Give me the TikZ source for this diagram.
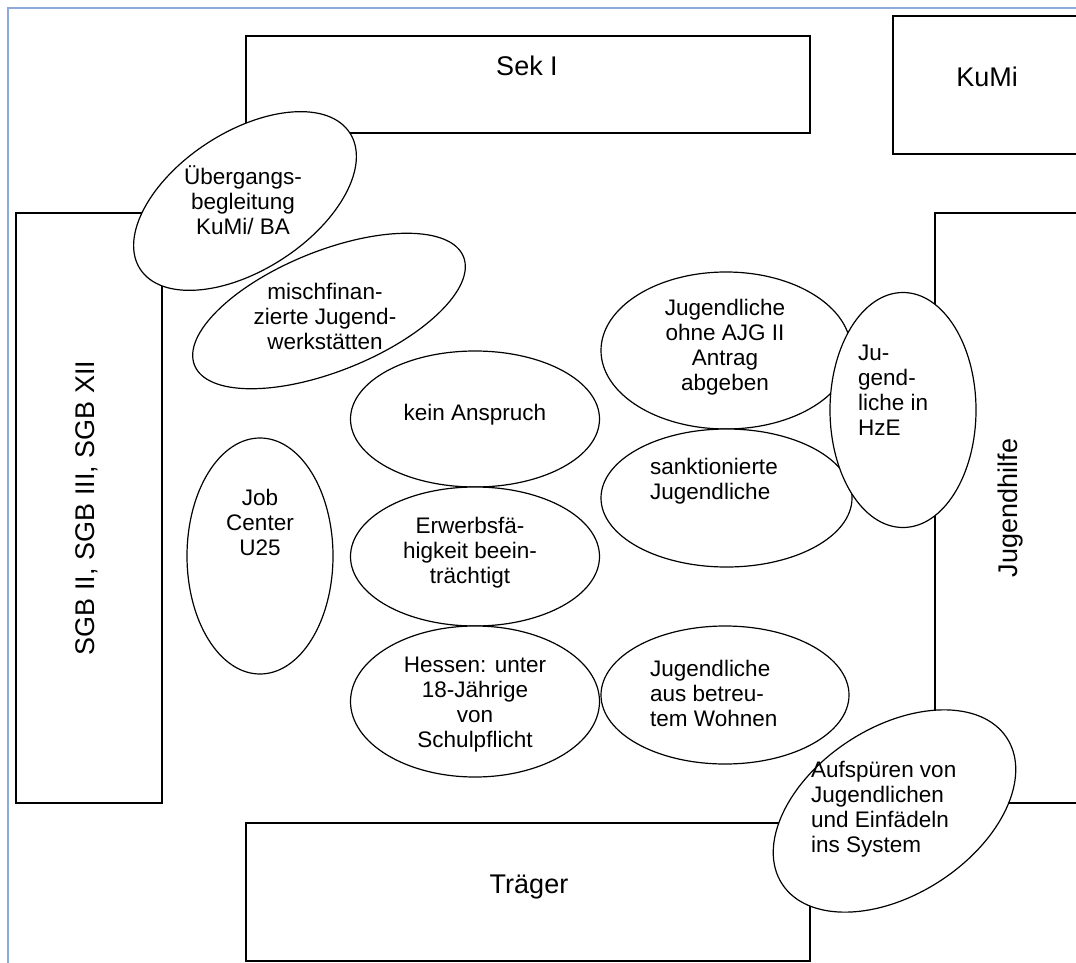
\documentclass[tikz,border=0pt]{standalone}
\usepackage{fontspec}
\setmainfont{Liberation Sans}
\usetikzlibrary{shapes.geometric}
\definecolor{pageblue}{RGB}{142,169,219}
\tikzset{
  boxshape/.style={draw=black, line width=1.6pt, fill=white, rectangle, inner sep=0pt},
  oval/.style={draw=black, line width=1.2pt, fill=white, ellipse, inner sep=0pt},
  boxtext/.style={inner sep=0pt, font=\fontsize{27}{31}\selectfont},
  ovaltext/.style={inner sep=0pt, align=center, font=\fontsize{22.5}{25}\selectfont},
  ovaltextl/.style={inner sep=0pt, align=left, anchor=west, font=\fontsize{22.5}{25}\selectfont},
}
\begin{document}
\begin{tikzpicture}[x=1pt,y=-1pt]
\useasboundingbox (0,0) rectangle (1076,963);
\fill[white] (0,0) rectangle (1076,963);
% page border lines
\coordinate (tl) at (8,8);
\coordinate (tr) at (1076,8);
\coordinate (bl) at (8,963);
\draw[pageblue, line width=1.5pt] (tr) -- (tl) -- (bl);

% boxes
\node[boxshape, minimum width=564pt, minimum height=97pt] (sek) at (528,84.5) {};
\node[boxshape, minimum width=188pt, minimum height=138pt] (kumi) at (987,85) {};
\node[boxshape, minimum width=146pt, minimum height=590pt] (sgb) at (89,508) {};
\node[boxshape, minimum width=146pt, minimum height=590pt] (jh) at (1008,508) {};
\node[boxshape, minimum width=564pt, minimum height=138pt] (traeger) at (528,892) {};

\node[boxtext] (sekt) at (527,66) {Sek I};
\node[boxtext] (kumit) at (987,77) {KuMi};
\node[boxtext, rotate=90] (sgbt) at (87,508) {SGB II, SGB III, SGB XII};
\node[boxtext, rotate=90] (jht) at (1011,508) {Jugendhilfe};
\node[boxtext] (traegert) at (529,887) {Träger};

% ellipses
\node[oval, minimum width=290pt, minimum height=120pt, rotate=22] (misch) at (329,311) {};
\node[oval, minimum width=250pt, minimum height=138pt, rotate=33] (ueb) at (245,201) {};
\node[oval, minimum width=249pt, minimum height=136pt] (kein) at (475,419) {};
\node[oval, minimum width=249pt, minimum height=139pt] (erw) at (475,556.5) {};
\node[oval, minimum width=249pt, minimum height=151pt] (hes) at (475,701.5) {};
\node[oval, minimum width=146pt, minimum height=236pt] (job) at (260,556) {};
\node[oval, minimum width=250pt, minimum height=157pt] (ohne) at (726,350.5) {};
\node[oval, minimum width=251pt, minimum height=138pt] (sank) at (726.5,498) {};
\node[oval, minimum width=248pt, minimum height=138pt] (betr) at (725,695) {};
\node[oval, minimum width=146pt, minimum height=235pt] (hze) at (903,410) {};
\node[oval, minimum width=268pt, minimum height=167pt, rotate=33] (aufs) at (894.5,811) {};

% ellipse texts
\node[ovaltext] (uebt) at (243,200) {Übergangs-\\begleitung\\KuMi/ BA};
\node[ovaltext] (mischt) at (325,316) {mischfinan-\\zierte Jugend-\\werkstätten};
\node[ovaltext] (keint) at (475,415) {kein Anspruch};
\node[ovaltext] (erwt) at (470,553) {Erwerbsfä-\\higkeit beein-\\trächtigt};
\begin{scope}
\clip (330,640) rectangle (620,751);
\node[ovaltext] (hest) at (475,705) {Hessen: unter\\18-Jährige\\von\\Schulpflicht};
\end{scope}
\node[ovaltext] (jobt) at (260,522) {Job\\Center\\U25};
\node[ovaltext] (ohnet) at (725,347) {Jugendliche\\ohne AJG II\\Antrag\\abgeben};
\node[ovaltextl] (sankt) at (650,481) {sanktionierte\\Jugendliche};
\node[ovaltextl] (betrt) at (650,693) {Jugendliche\\aus betreu-\\tem Wohnen};
\node[ovaltextl] (hzet) at (858,390) {Ju-\\gend-\\liche in\\HzE};
\node[ovaltextl] (aufst) at (811,809) {Aufspüren von\\Jugendlichen\\und Einfädeln\\ins System};
\end{tikzpicture}
\end{document}
